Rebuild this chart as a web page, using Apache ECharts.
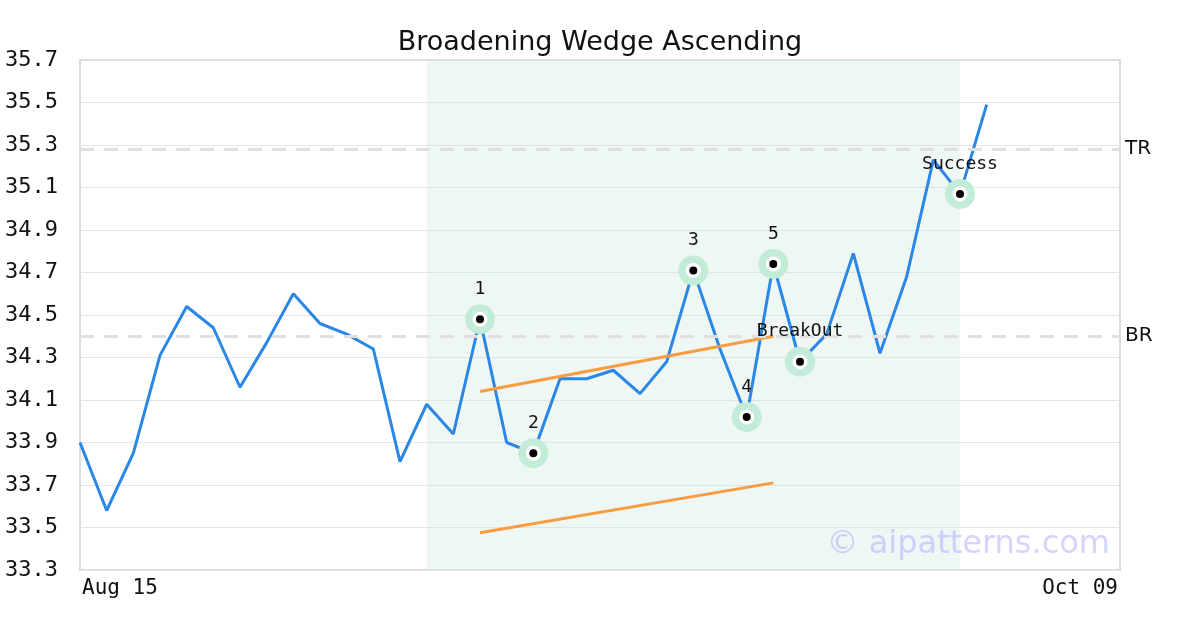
<!DOCTYPE html>
<html>
<head>
<meta charset="utf-8">
<script src="https://cdn.jsdelivr.net/npm/echarts@6/dist/echarts.min.js"></script>
<style>html,body{margin:0;padding:0;background:#fff;}#c{width:1200px;height:630px;}</style>
</head>
<body>
<div id="c"></div>
<script>
const titleText = 'Broadening Wedge Ascending';
const prices = [33.90, 33.58, 33.85, 34.31, 34.54, 34.44, 34.16, 34.37, 34.60, 34.46,
  34.41, 34.34, 33.81, 34.08, 33.94, 34.48, 33.90, 33.85, 34.20, 34.20,
  34.24, 34.13, 34.28, 34.71, 34.34, 34.02, 34.74, 34.28, 34.41, 34.79,
  34.32, 34.68, 35.23, 35.07, 35.49];
const xMaxIndex = 39;
const xLabelIndex = [0, 39];
const xLabelText = ['Aug 15', 'Oct 09'];
const yTicks = [33.3, 33.5, 33.7, 33.9, 34.1, 34.3, 34.5, 34.7, 34.9, 35.1, 35.3, 35.5, 35.7];
const patternIdx = [15, 17, 23, 25, 26, 27, 33];
const patternLabels = ['1', '2', '3', '4', '5', 'BreakOut', 'Success'];
const trendIdx = [15, 26];
const upperTrend = [34.14, 34.40];
const lowerTrend = [33.475, 33.71];
const levelNames = ['TR', 'BR'];
const levelValues = [35.285, 34.40];
const shadeRange = [13, 33];
const watermark = '\u00a9 aipatterns.com';

const mono = 'DejaVu Sans Mono';
const sans = 'DejaVu Sans';

const lineData = prices.map((v, i) => [i, v]);
const patData = patternIdx.map((i, k) => ({ value: [i, prices[i]], label: { formatter: patternLabels[k] } }));

const chart = echarts.init(document.getElementById('c'), null, { renderer: 'canvas' });
chart.setOption({
  animation: false,
  backgroundColor: '#fff',
  title: {
    text: titleText, left: 'center', top: 24,
    textStyle: { fontFamily: sans, fontSize: 27, fontWeight: 'normal', color: '#111' }
  },
  grid: {
    left: 80, right: 80, top: 60, bottom: 60, show: true,
    borderColor: '#dcdcdc', borderWidth: 2, backgroundColor: 'transparent'
  },
  xAxis: {
    type: 'value', min: 0, max: xMaxIndex, interval: xMaxIndex,
    axisLine: { show: false }, axisTick: { show: false }, splitLine: { show: false },
    axisLabel: {
      margin: 8, color: '#111', fontFamily: mono, fontSize: 21,
      alignMinLabel: 'left', alignMaxLabel: 'right',
      padding: [0, 2, 0, 2],
      formatter: v => { const k = xLabelIndex.indexOf(Math.round(v)); return k >= 0 ? xLabelText[k] : ''; }
    }
  },
  yAxis: {
    type: 'value', min: yTicks[0], max: yTicks[yTicks.length - 1], interval: 0.2,
    axisLine: { show: false }, axisTick: { show: false },
    splitLine: { lineStyle: { color: '#e6e6e6', width: 1 } },
    axisLabel: { margin: 22, color: '#111', fontFamily: mono, fontSize: 22, padding: [6, 0, 0, 0], formatter: v => v.toFixed(1) }
  },
  graphic: [{
    type: 'text', right: 90, top: 529, z: 100,
    style: { text: watermark, fontFamily: sans, fontSize: 32, fill: 'rgba(170,170,255,0.5)' }
  }],
  series: [
    {
      type: 'line', data: lineData, showSymbol: false, z: 3,
      lineStyle: { color: '#2b87e6', width: 3 },
      markArea: {
        silent: true,
        itemStyle: { color: 'rgba(202,228,218,0.3)' },
        data: [[{ xAxis: shadeRange[0] }, { xAxis: shadeRange[1] }]]
      },
      markLine: {
        silent: true, symbol: ['none', 'none'],
        lineStyle: { color: '#e0e0e0', type: [14, 10], width: 3 },
        label: { position: 'end', distance: 5, color: '#111', fontFamily: sans, fontSize: 20, padding: [4, 0, 0, 0] },
        data: levelValues.map((v, k) => ({ yAxis: v, label: { formatter: levelNames[k] } }))
      }
    },
    {
      type: 'line', data: trendIdx.map((i, k) => [i, upperTrend[k]]), showSymbol: false, z: 4,
      lineStyle: { color: '#f89c42', width: 3 }
    },
    {
      type: 'line', data: trendIdx.map((i, k) => [i, lowerTrend[k]]), showSymbol: false, z: 4,
      lineStyle: { color: '#f89c42', width: 3 }
    },
    {
      type: 'scatter', data: patternIdx.map(i => [i, prices[i]]), symbolSize: 30, z: 5,
      itemStyle: { color: '#c2ebd8', opacity: 1 }
    },
    {
      type: 'scatter', data: patternIdx.map(i => [i, prices[i]]), symbolSize: 15, z: 6,
      itemStyle: { color: '#ffffff', opacity: 1 }
    },
    {
      type: 'scatter', data: patData, symbolSize: 8, z: 7,
      itemStyle: { color: '#000', opacity: 1 },
      label: { show: true, position: 'top', distance: 17, color: '#111', fontFamily: mono, fontSize: 18 }
    }
  ]
});
</script>
</body>
</html>
